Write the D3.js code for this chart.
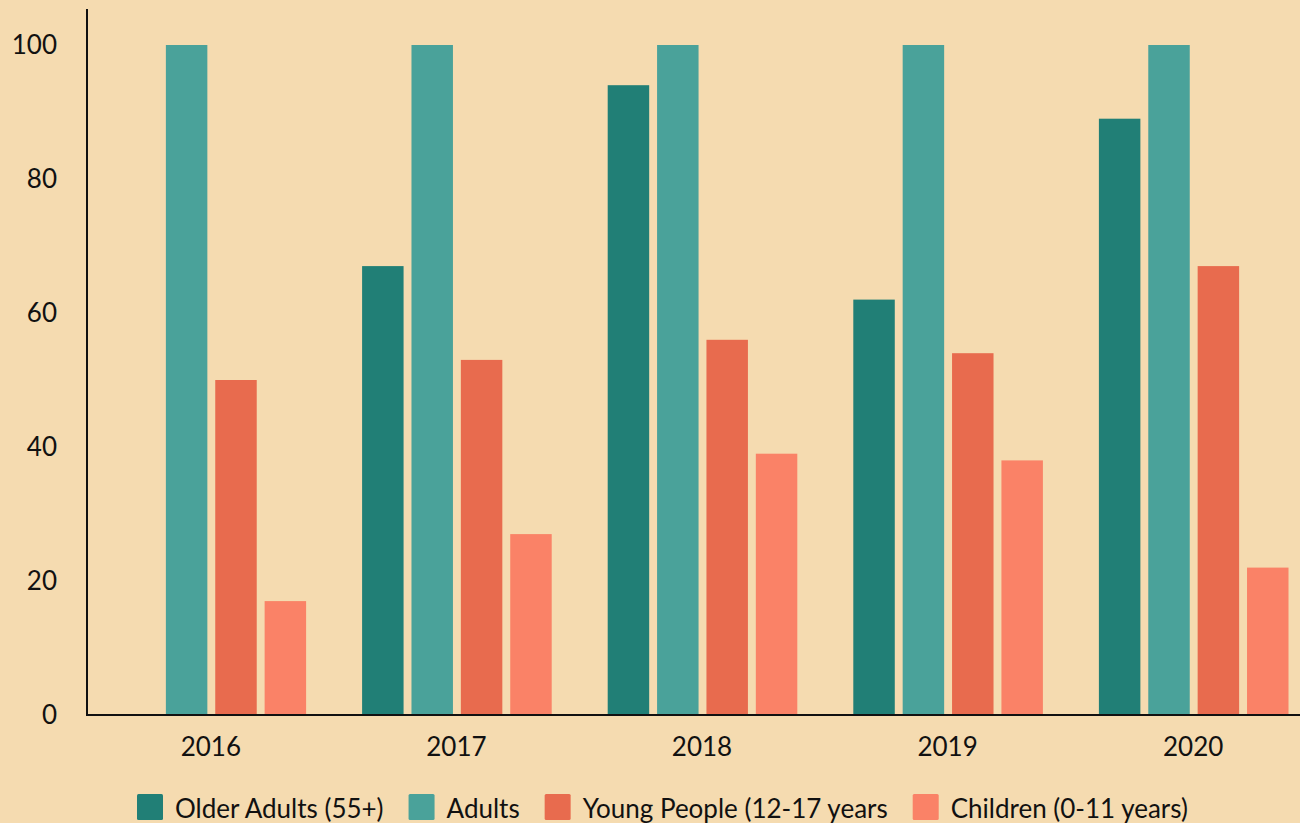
<!DOCTYPE html>
<html>
<head>
<meta charset="utf-8">
<script src="https://cdn.jsdelivr.net/npm/d3@7"></script>
<style>
  html, body { margin: 0; padding: 0; background: #f5dbb0; overflow: hidden; }
  svg { display: block; font-family: Lato, "Noto Sans", sans-serif; }
</style>
</head>
<body>
<svg id="chart" width="1300" height="823"></svg>
<script>
// Programme participation by age group, 2016–2020
const years = ["2016", "2017", "2018", "2019", "2020"];
const seriesNames = ["Older Adults (55+)", "Adults", "Young People (12-17 years", "Children (0-11 years)"];
const olderAdults = [0, 67, 94, 62, 89];
const adults = [100, 100, 100, 100, 100];
const youngPeople = [50, 53, 56, 54, 67];
const children = [17, 27, 39, 38, 22];
const seriesColors = ["#217f76", "#4aa29a", "#e86b4e", "#fa8267"];
const yTicks = [0, 20, 40, 60, 80, 100];

(function () {
  const seriesValues = [olderAdults, adults, youngPeople, children];
  const rows = years.map((yr, i) => ({ year: yr, values: seriesValues.map(s => s[i]) }));

  const svg = d3.select("#chart");
  const mLeft = 87, mRight = 1316, mTop = 45, mBottom = 715;
  const fontSize = 26;

  const x0 = d3.scaleBand().domain(years).range([mLeft + 1, mRight]).padding(0);
  const x1 = d3.scaleBand().domain(d3.range(seriesNames.length))
    .range([28.5, x0.bandwidth() - 27.5]).paddingInner(0.16);
  const y = d3.scaleLinear().domain([0, 100]).range([mBottom, mTop]);
  const color = d3.scaleOrdinal().domain(d3.range(seriesNames.length)).range(seriesColors);

  // bars
  const groups = svg.append("g").selectAll("g").data(rows).join("g")
    .attr("transform", d => `translate(${x0(d.year)},0)`);
  groups.selectAll("rect").data(d => d.values.map((v, k) => ({ k, v })).filter(e => e.v > 0))
    .join("rect")
    .attr("x", d => x1(d.k))
    .attr("width", x1.bandwidth())
    .attr("y", d => y(d.v))
    .attr("height", d => y(0) - y(d.v))
    .attr("fill", d => color(d.k));

  // y axis
  const yAxis = svg.append("g").attr("transform", `translate(${mLeft},0)`)
    .call(d3.axisLeft(y).tickValues(yTicks).tickSize(0).tickPadding(30));
  yAxis.select(".domain").remove();
  yAxis.append("line").attr("x1", 0).attr("x2", 0).attr("y1", 9).attr("y2", mBottom)
    .attr("stroke", "#111").attr("stroke-width", 2);
  yAxis.selectAll("text").attr("font-size", fontSize).attr("fill", "#111")
    .attr("font-family", "Lato, sans-serif");

  // x axis
  const xAxis = svg.append("g").attr("transform", `translate(0,${mBottom})`)
    .call(d3.axisBottom(x0).tickSize(0).tickPadding(22.5));
  xAxis.select(".domain").remove();
  xAxis.append("line").attr("x1", mLeft - 1).attr("x2", 1300).attr("y1", 0).attr("y2", 0)
    .attr("stroke", "#111").attr("stroke-width", 2);
  xAxis.selectAll("text").attr("font-size", fontSize).attr("fill", "#111")
    .attr("font-family", "Lato, sans-serif");

  // legend
  const legend = svg.append("g").attr("transform", "translate(137,794)");
  let lx = 0;
  seriesNames.forEach((name, k) => {
    const item = legend.append("g").attr("transform", `translate(${lx},0)`);
    item.append("rect").attr("width", 26).attr("height", 26).attr("rx", 1.5)
      .attr("fill", seriesColors[k]);
    const t = item.append("text").attr("x", 38).attr("y", 24)
      .attr("font-size", fontSize).attr("fill", "#111").text(name);
    lx += 38 + t.node().getComputedTextLength() + 25;
  });
})();
</script>
</body>
</html>
